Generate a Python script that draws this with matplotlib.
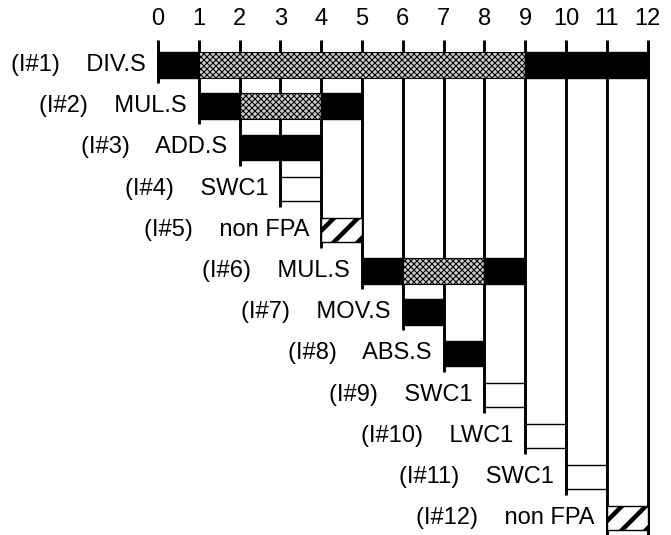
import matplotlib
matplotlib.use("Agg")
import matplotlib.pyplot as plt
from matplotlib.patches import Rectangle

plt.rcParams['font.family'] = ['Liberation Sans', 'DejaVu Sans']

# instruction rows
ids = ["(I#1)", "(I#2)", "(I#3)", "(I#4)", "(I#5)", "(I#6)",
       "(I#7)", "(I#8)", "(I#9)", "(I#10)", "(I#11)", "(I#12)"]
names = ["DIV.S", "MUL.S", "ADD.S", "SWC1", "non FPA", "MUL.S",
         "MOV.S", "ABS.S", "SWC1", "LWC1", "SWC1", "non FPA"]
# segments per row: (start, end, kind)
# kind: busy = black, wait = stippled, store = white box, other = hatched
segments = [
    [(0, 1, "busy"), (1, 9, "wait"), (9, 12, "busy")],
    [(1, 2, "busy"), (2, 4, "wait"), (4, 5, "busy")],
    [(2, 4, "busy")],
    [(3, 4, "store")],
    [(4, 5, "other")],
    [(5, 6, "busy"), (6, 8, "wait"), (8, 9, "busy")],
    [(6, 7, "busy")],
    [(7, 8, "busy")],
    [(8, 9, "store")],
    [(9, 10, "store")],
    [(10, 11, "store")],
    [(11, 12, "other")],
]
cycles = list(range(13))

# dpi 72 so that 1pt == 1px (keeps hatch spacing close to the original)
fig = plt.figure(figsize=(671 / 72, 535 / 72), dpi=72)
ax = fig.add_axes([0, 0, 1, 0.9252])
ax.set_xlim(-3.873, 12.574)
ax.set_ylim(12.408, 0.393)
for s in ax.spines.values():
    s.set_visible(False)
ax.xaxis.tick_top()
ax.set_xticks(cycles)
ax.set_xticklabels([str(c) for c in cycles], fontsize=23.6)
ax.tick_params(axis='x', length=0, pad=10)
ax.set_yticks([])

# vertical cycle lines reach down to the last row that starts/ends there
for c in cycles:
    last = max(i + 1 for i, segs in enumerate(segments)
               for a, b, k in segs if a == c or b == c)
    ax.vlines(c, 0.393, last + 0.44, color='black', lw=2.9, zorder=1)

h = 0.62
for i, segs in enumerate(segments):
    row = i + 1
    for a, b, kind in segs:
        if kind == "busy":
            r = Rectangle((a, row - h / 2), b - a, h, facecolor='black',
                          edgecolor='black', lw=1.4, zorder=2)
        elif kind == "wait":
            with plt.rc_context({'hatch.linewidth': 1.1, 'hatch.color': 'black'}):
                r = Rectangle((a, row - h / 2), b - a, h, facecolor='#d0d0d0',
                              edgecolor='black', hatch='xxxx', lw=1.1, zorder=2)
        elif kind == "store":
            r = Rectangle((a, row - 0.29), b - a, 0.58, facecolor='white',
                          edgecolor='black', lw=1.4, zorder=0.5)
        else:
            with plt.rc_context({'hatch.linewidth': 4.5, 'hatch.color': 'black'}):
                r = Rectangle((a, row - 0.29), b - a, 0.58, facecolor='white',
                              edgecolor='black', hatch='/', lw=1.4, zorder=2)
        ax.add_patch(r)
    start = segs[0][0]
    ax.text(start - 0.3, row, ids[i] + "    " + names[i], ha='right',
            va='center', fontsize=23.6)

fig.savefig("out.png", dpi=72)
